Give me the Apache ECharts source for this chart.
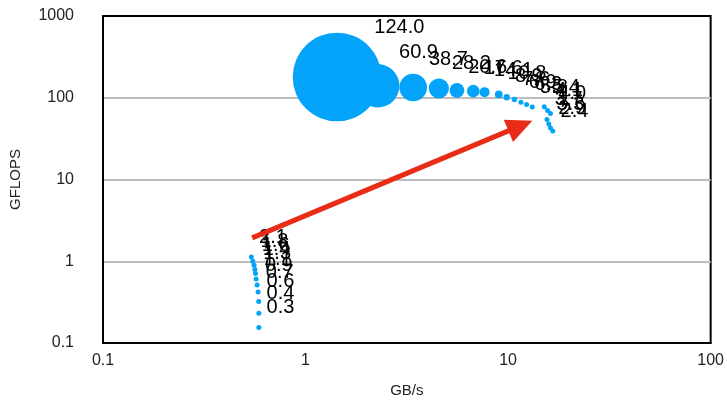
<!DOCTYPE html>
<html><head><meta charset="utf-8">
<script src="https://cdn.jsdelivr.net/npm/echarts@6/dist/echarts.min.js"></script>
<style>html,body{margin:0;padding:0;background:#fff}#c{width:727px;height:403px}</style>
</head><body><div id="c"></div>
<script>
// Upper group of bubbles (GB/s, GFLOPS, labelled bubble value)
const upperGBs    = [1.43, 2.27, 3.40, 4.55, 5.59, 6.73, 7.65, 8.99, 9.84, 10.74, 11.57, 12.34, 13.16, 15.08, 15.65, 16.19, 15.56, 15.88, 16.19, 16.61];
const upperGFLOPS = [179.5, 140.1, 133.6, 129.9, 122.8, 120.4, 117.0, 109.7, 101.7, 95.3, 88.4, 82.8, 76.8, 77.6, 70.0, 64.3, 54.3, 47.9, 42.8, 39.1];
const upperValue  = [124.0, 60.9, 38.7, 28.2, 20.6, 17.6, 14.1, 10.8, 8.9, 7.6, 6.9, 6.3, 5.8, 5.4, 4.1, 4.0, 3.7, 3.3, 2.9, 2.4];
// Lower group
const lowerGBs    = [0.540, 0.549, 0.557, 0.562, 0.566, 0.570, 0.577, 0.583, 0.587, 0.588, 0.588];
const lowerGFLOPS = [1.128, 1.003, 0.896, 0.790, 0.706, 0.605, 0.511, 0.420, 0.321, 0.231, 0.155];
const lowerValue  = [2.1, 1.8, 1.6, 1.4, 1.3, 1.1, 0.9, 0.7, 0.6, 0.4, 0.3];
// Arrow (from, to) in data coordinates
const arrowFrom = [0.545, 1.93];
const arrowTo   = [11.5, 45.3];
// Axis ticks
const xTicks = [0.1, 1, 10, 100];
const yTicks = [0.1, 1, 10, 100, 1000];

const FONT = 'Liberation Sans, Helvetica, Arial, sans-serif';
const BLUE = '#03a3fa';

function build(xs, ys, vs) {
  return xs.map((x, i) => [x, ys[i], vs[i]]);
}
// draw smaller bubbles first so the largest sits on top
const allData = build(upperGBs, upperGFLOPS, upperValue)
  .concat(build(lowerGBs, lowerGFLOPS, lowerValue))
  .sort((a, b) => a[2] - b[2]);

const chart = echarts.init(document.getElementById('c'), null, {renderer: 'canvas'});
chart.setOption({
  animation: false,
  backgroundColor: '#fff',
  grid: {left: 101, right: 16, top: 16, bottom: 59, show: true, borderColor: '#000', borderWidth: 2, backgroundColor: 'transparent'},
  xAxis: {
    type: 'log', logBase: 10, min: xTicks[0], max: xTicks[xTicks.length - 1],
    name: 'GB/s', nameLocation: 'middle', nameGap: 40,
    nameTextStyle: {fontFamily: FONT, fontSize: 15, color: '#222'},
    axisLine: {lineStyle: {color: '#000', width: 2}},
    axisTick: {show: false},
    axisLabel: {fontFamily: FONT, fontSize: 16, color: '#222', margin: 10,
      formatter: v => String(+v.toPrecision(3))},
    splitLine: {show: false}
  },
  yAxis: {
    type: 'log', logBase: 10, min: yTicks[0], max: yTicks[yTicks.length - 1],
    name: 'GFLOPS', nameLocation: 'middle', nameGap: 80,
    nameTextStyle: {fontFamily: FONT, fontSize: 15, color: '#222'},
    axisLine: {lineStyle: {color: '#000', width: 2}},
    axisTick: {show: false},
    axisLabel: {fontFamily: FONT, fontSize: 16, color: '#222', margin: 29,
      formatter: v => String(+v.toPrecision(3))},
    splitLine: {show: true, showMinLine: false, showMaxLine: false, lineStyle: {color: '#bdbdbd', width: 2}}
  },
  series: [{
    type: 'scatter',
    data: allData,
    symbol: 'circle',
    symbolSize: d => Math.max(5, d[2] / 1.4),
    itemStyle: {color: BLUE, opacity: 1},
    label: {
      show: true,
      position: ['85.35%', '14.65%'],
      offset: [6, -8],
      align: 'left',
      verticalAlign: 'bottom',
      fontFamily: FONT, fontSize: 20, color: '#000',
      formatter: p => p.value[2].toFixed(1)
    },
    emphasis: {disabled: true},
    markLine: {
      silent: true,
      symbol: ['none', 'triangle'],
      symbolSize: [24, 26],
      label: {show: false},
      lineStyle: {color: '#e82c18', width: 5, type: 'solid', opacity: 1},
      emphasis: {disabled: true},
      data: [[{coord: arrowFrom}, {coord: arrowTo}]]
    }
  }]
});
</script>
</body></html>
